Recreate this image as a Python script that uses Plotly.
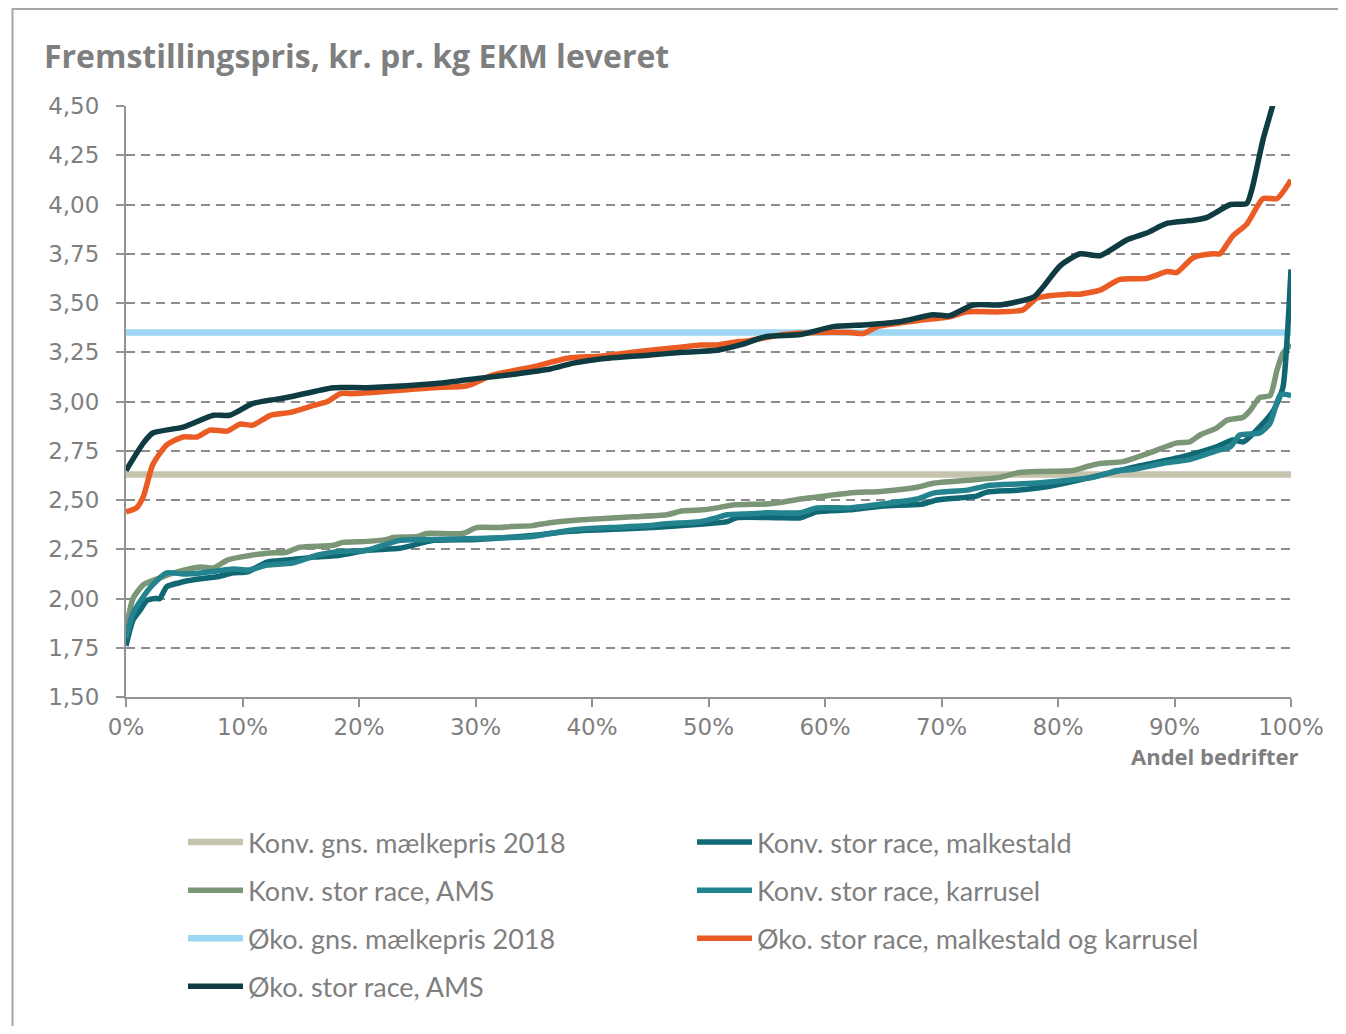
import plotly.graph_objects as go

# ---------------- data ----------------
x_ticks = [0, 10, 20, 30, 40, 50, 60, 70, 80, 90, 100]
x_tick_labels = ["0%", "10%", "20%", "30%", "40%", "50%", "60%", "70%", "80%", "90%", "100%"]
y_ticks = [1.50, 1.75, 2.00, 2.25, 2.50, 2.75, 3.00, 3.25, 3.50, 3.75, 4.00, 4.25, 4.50]

konv_price = 2.63
oko_price = 3.35
price_x = [0, 100]

konv_ams_x = [0, 0.6, 1.5, 2.7, 4.4, 6.4, 7.5, 8.7, 9.8, 12.1,
              13.8, 14.9, 17.8, 18.6, 20.7, 22.4, 22.9, 25, 25.8, 28.9,
              30.1, 32.1, 33, 34.9, 36.4, 39.2, 40.7, 42.1, 43.5, 46.4,
              47.8, 49.5, 50.7, 52.1, 55, 56.4, 57.9, 59.3, 62.1, 65,
              67.9, 69.3, 72.2, 75, 76.7, 78.7, 81.3, 82.5, 83.6, 85.6,
              87.9, 90.2, 91.3, 92.2, 93.6, 94.5, 95.9, 96.5, 97.3, 98.2,
              98.8, 99.3, 100]
konv_ams_y = [1.84, 2.0, 2.07, 2.10, 2.135, 2.16, 2.155, 2.195, 2.21, 2.23,
              2.235, 2.26, 2.27, 2.285, 2.29, 2.30, 2.31, 2.315, 2.33, 2.33,
              2.36, 2.36, 2.365, 2.37, 2.385, 2.40, 2.405, 2.41, 2.415, 2.425,
              2.445, 2.45, 2.46, 2.475, 2.48, 2.49, 2.505, 2.515, 2.535, 2.545,
              2.565, 2.585, 2.60, 2.615, 2.64, 2.645, 2.65, 2.67, 2.685, 2.695,
              2.74, 2.79, 2.795, 2.83, 2.865, 2.905, 2.92, 2.955, 3.02, 3.03,
              3.16, 3.245, 3.29]

konv_mk_x = [0, 0.6, 1.2, 1.8, 2.5, 2.9, 3.5, 4.6, 4.9, 6.4,
             7.8, 9.2, 10.4, 12.1, 13.8, 16.1, 18.4, 20.7, 23.5, 26.4,
             30.1, 34.9, 37.9, 45, 51.6, 52.4, 55.9, 57.9, 59.3, 62.1,
             65, 68.4, 69.6, 73, 73.9, 76.5, 79.3, 83.6, 86.4, 90.7,
             93.6, 95, 95.9, 97.3, 98.5, 99.3, 99.7, 100]
konv_mk_y = [1.76, 1.89, 1.94, 1.99, 2.0, 2.0, 2.06, 2.08, 2.085, 2.10,
             2.11, 2.13, 2.135, 2.185, 2.195, 2.21, 2.22, 2.245, 2.255, 2.295,
             2.30, 2.32, 2.34, 2.36, 2.39, 2.41, 2.41, 2.41, 2.44, 2.45,
             2.47, 2.48, 2.50, 2.52, 2.54, 2.55, 2.57, 2.625, 2.665, 2.72,
             2.77, 2.805, 2.795, 2.87, 2.955, 3.07, 3.35, 3.67]

konv_kar_x = [0, 0.6, 1.5, 2.3, 3.5, 4.9, 6.4, 7.8, 9.2, 10.6,
              12.1, 14.3, 16.4, 18.4, 20.7, 23.5, 26.4, 30.1, 34.9, 36.4,
              38.7, 41.5, 45, 46.4, 49.3, 50.7, 51.6, 53.6, 55, 57.9,
              59.3, 62.1, 65, 67.9, 69.3, 72.2, 74.2, 77.9, 80.8, 83,
              85.1, 86.4, 89.4, 91.3, 93.6, 94.8, 95.6, 97.3, 98.2, 99.1,
              100]
konv_kar_y = [1.80, 1.925, 2.01, 2.07, 2.13, 2.125, 2.13, 2.14, 2.15, 2.145,
              2.17, 2.18, 2.22, 2.24, 2.245, 2.295, 2.30, 2.305, 2.315, 2.33,
              2.35, 2.36, 2.37, 2.38, 2.39, 2.41, 2.425, 2.43, 2.435, 2.435,
              2.46, 2.46, 2.48, 2.505, 2.535, 2.55, 2.575, 2.585, 2.60, 2.615,
              2.65, 2.655, 2.69, 2.705, 2.75, 2.77, 2.83, 2.84, 2.89, 3.035,
              3.03]

oko_mk_x = [0, 0.9, 1.5, 2.3, 3.5, 4.9, 6.1, 7.2, 8.7, 9.8,
            10.9, 12.4, 14.1, 16.1, 17.3, 18.4, 19.5, 26.4, 29.3, 31.5,
            34.9, 37.9, 40.7, 43.5, 47.8, 49.3, 50.7, 52.1, 53.6, 56.4,
            59.3, 62.1, 63.3, 64.5, 67.9, 70.7, 72.2, 75, 77, 78.2,
            80.8, 81.9, 83.6, 85.3, 87.6, 89.4, 90.2, 91.6, 93.3, 93.9,
            95, 96.2, 97.6, 98.8, 100]
oko_mk_y = [2.44, 2.46, 2.52, 2.68, 2.78, 2.82, 2.82, 2.855, 2.85, 2.885,
            2.88, 2.93, 2.945, 2.98, 3.00, 3.04, 3.04, 3.07, 3.08, 3.135,
            3.175, 3.22, 3.23, 3.25, 3.277, 3.287, 3.287, 3.30, 3.31, 3.34,
            3.35, 3.35, 3.345, 3.38, 3.41, 3.43, 3.455, 3.455, 3.465, 3.525,
            3.545, 3.545, 3.565, 3.62, 3.625, 3.66, 3.655, 3.73, 3.75, 3.75,
            3.84, 3.90, 4.03, 4.03, 4.125]

oko_ams_x = [0, 1.5, 2.3, 4.9, 7.5, 8.9, 10.9, 13.8, 17.8, 20.7,
             26.4, 30.6, 33.5, 36.4, 38.4, 40.7, 45, 47.8, 50.7, 52.7,
             55, 57.9, 60.7, 63.6, 66.4, 69.3, 70.7, 72.7, 75, 77.9,
             78.7, 80.2, 81.9, 83.6, 85.9, 87.6, 89.4, 91.6, 92.8, 94.8,
             96.2, 96.7, 97.6, 98.5, 99.2, 100]
oko_ams_y = [2.65, 2.79, 2.84, 2.87, 2.93, 2.93, 2.99, 3.02, 3.07, 3.07,
             3.09, 3.12, 3.14, 3.165, 3.195, 3.216, 3.236, 3.25, 3.26, 3.287,
             3.33, 3.34, 3.38, 3.39, 3.405, 3.44, 3.435, 3.49, 3.49, 3.53,
             3.58, 3.69, 3.75, 3.74, 3.82, 3.855, 3.905, 3.92, 3.935, 4.00,
             4.005, 4.09, 4.33, 4.52, 4.75, 5.0]

# ---------------- style ----------------
GRAY_TXT = "#7f7f7f"
AXIS_GRAY = "#939393"
LEG_FONT = dict(family="Lato", size=27, color=GRAY_TXT)

C_KONV_PRICE = "#c5c3ae"
C_KONV_AMS = "#7a9676"
C_OKO_PRICE = "#9dd7f3"
C_OKO_AMS = "#0e3c42"
C_KONV_MK = "#0f6873"
C_KONV_KAR = "#23838f"
C_OKO_MK = "#ea5c24"

# page body has an 8px default margin
OFF = 8
W, H = 1346 - 2 * OFF, 1034 - 2 * OFF
PL, PR, PT, PB = 126, 1291, 106, 697   # plot area in screen px
PW, PH = PR - PL, PB - PT

def px_x(p):
    return (p - PL) / PW

def px_y(p):
    return (PB - p) / PH

fig = go.Figure()

def add(name, x, y, color, width, legend, spline=True):
    fig.add_trace(go.Scatter(
        x=x, y=y, name=name, mode="lines",
        line=dict(color=color, width=width,
                  shape="spline" if spline else "linear", smoothing=0.6),
        legend=legend, legendgroup=name, hoverinfo="skip"))

# draw order (bottom to top)
add("Konv. gns. mælkepris 2018", price_x, [konv_price] * 2, C_KONV_PRICE, 6.5, "legend", False)
add("Øko. gns. mælkepris 2018", price_x, [oko_price] * 2, C_OKO_PRICE, 6.5, "legend", False)
add("Konv. stor race, AMS", konv_ams_x, konv_ams_y, C_KONV_AMS, 5.5, "legend")
add("Konv. stor race, malkestald", konv_mk_x, konv_mk_y, C_KONV_MK, 5.5, "legend2")
add("Konv. stor race, karrusel", konv_kar_x, konv_kar_y, C_KONV_KAR, 5.5, "legend2")
add("Øko. stor race, malkestald og karrusel", oko_mk_x, oko_mk_y, C_OKO_MK, 5.5, "legend2")
add("Øko. stor race, AMS", oko_ams_x, oko_ams_y, C_OKO_AMS, 5.5, "legend")

ranks = {
    "Konv. gns. mælkepris 2018": 1,
    "Konv. stor race, AMS": 2,
    "Øko. gns. mælkepris 2018": 3,
    "Øko. stor race, AMS": 4,
    "Konv. stor race, malkestald": 1,
    "Konv. stor race, karrusel": 2,
    "Øko. stor race, malkestald og karrusel": 3,
}
for tr in fig.data:
    tr.legendrank = ranks[tr.name]

leg_common = dict(yanchor="top", y=px_y(818), orientation="v", traceorder="grouped",
                  tracegroupgap=10, itemwidth=55, font=LEG_FONT,
                  bgcolor="rgba(0,0,0,0)", xanchor="left")

fig.update_layout(
    width=W, height=H, autosize=False,
    margin=dict(l=PL - OFF, r=W - (PR - OFF), t=PT - OFF, b=H - (PB - OFF), pad=0),
    paper_bgcolor="white", plot_bgcolor="white",
    separators=",.",
    font=dict(family="DejaVu Sans", size=23, color=GRAY_TXT),
    title=dict(text="<b>Fremstillingspris, kr. pr. kg EKM leveret</b>",
               font=dict(family="Open Sans", size=32, color=GRAY_TXT),
               x=(44 - OFF) / W, xanchor="left", xref="container",
               y=1 - (57 - OFF) / H, yanchor="middle", yref="container"),
    xaxis=dict(range=[0, 100], tickvals=x_ticks, ticktext=x_tick_labels,
               showgrid=False, zeroline=False,
               showline=True, linecolor=AXIS_GRAY, linewidth=2,
               ticks="outside", ticklen=8, tickwidth=2, tickcolor=AXIS_GRAY,
               tickfont=dict(family="DejaVu Sans", size=23, color=GRAY_TXT),
               fixedrange=True),
    yaxis=dict(range=[1.5, 4.5], tickvals=y_ticks, tickformat=".2f",
               showgrid=True, gridcolor="#8c8c8c", gridwidth=2, griddash="9px,6px",
               zeroline=False,
               showline=True, linecolor=AXIS_GRAY, linewidth=2,
               ticks="outside", ticklen=8, tickwidth=2, tickcolor=AXIS_GRAY,
               ticklabelstandoff=12,
               tickfont=dict(family="DejaVu Sans", size=23, color=GRAY_TXT),
               fixedrange=True),
    legend=dict(x=px_x(183), **leg_common),
    legend2=dict(x=px_x(692), **leg_common),
    annotations=[dict(text="<b>Andel bedrifter</b>", xref="paper", yref="paper",
                      x=px_x(1301), y=px_y(756),
                      xanchor="right", yanchor="middle", showarrow=False,
                      font=dict(family="Open Sans", size=22, color=GRAY_TXT))],
    shapes=[dict(type="rect", xref="paper", yref="paper",
                 x0=px_x(12.5), x1=px_x(1400),
                 y0=px_y(1200), y1=px_y(9),
                 line=dict(color="#a6a6a6", width=2), layer="below")],
)

fig.write_html("out.html")
